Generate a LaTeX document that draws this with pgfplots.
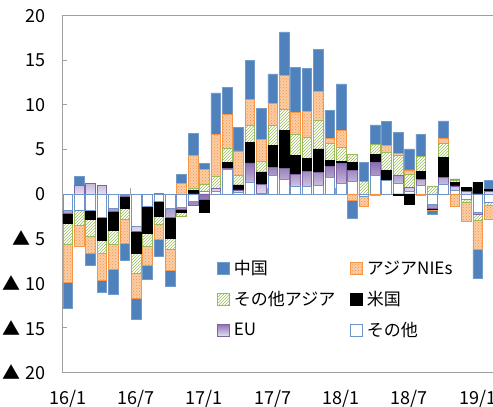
\documentclass[border=0pt]{standalone}
\usepackage{fontspec}
\setmainfont{Noto Sans CJK JP}
\usepackage{pgfplots}
\pgfplotsset{compat=1.18}
\usepackage{pgfplotstable}
\usetikzlibrary{patterns}

\definecolor{cnblue}{HTML}{4F81BD}
\definecolor{niesfill}{HTML}{FBCDA6}
\definecolor{niesdraw}{HTML}{F79646}
\definecolor{asiadraw}{HTML}{9BBB59}
\definecolor{eudraw}{HTML}{8064A2}
\definecolor{eutop}{HTML}{8A70B4}
\definecolor{eubot}{HTML}{E4DDF0}
\definecolor{othdraw}{HTML}{6F94C8}
\definecolor{axgray}{HTML}{A0A0A0}

\pgfplotstableread{
i cn nies asia us eu oth
0 -3.0 -4.2 -2.4 -1.05 -0.4 -1.8
1 0.95 -2.36 -1.6 0 1.0 -1.87
2 -1.3 -2.0 -1.9 -1.0 1.2 -1.8
3 -1.4 -3.0 -1.5 -2.5 1.0 -2.65
4 -2.87 -2.84 -1.57 -2.05 -0.37 -1.6
5 -1.9 -2.7 -1.2 -1.3 -0.2 -0.1
6 -2.36 -2.8 -2.24 -2.43 -0.63 -3.6
7 -1.6 -2.13 -1.42 -3.0 0 -1.42
8 -1.94 -1.72 -0.82 -1.75 0.1 -0.78
9 -1.8 -2.32 -1.23 -2.36 -1.0 -1.6
10 0.93 1.23 -0.45 -0.3 -0.26 -1.5
11 2.43 3.7 0.26 0.37 -0.52 -0.78
12 0.6 1.7 0.8 -1.5 -0.6 0.3
13 4.67 4.67 1.35 0 0.4 0.25
14 3.0 3.8 1.57 0.75 0.1 2.73
15 2.65 2.7 1.12 0.56 0.3 0.15
16 4.4 2.92 1.9 2.28 2.13 1.35
17 3.5 2.47 1.2 1.42 1.0 0.05
18 3.33 2.43 2.28 2.43 0.9 2.1
19 4.87 3.85 2.36 4.2 1.3 1.6
20 5.05 2.43 2.43 2.13 1.28 0.9
21 4.87 2.92 2.36 1.38 1.75 0.82
22 4.67 3.2 3.25 2.62 1.5 0.95
23 3.2 0.56 1.9 0.64 1.23 1.87
24 5.2 1.9 1.57 0.2 2.24 1.23
25 -2.0 -0.71 0.95 0.88 1.27 1.4
26 2.05 -1.1 1.45 0 0 -0.25
27 2.22 -0.1 1.13 0.9 1.4 2.1
28 2.73 0.75 2.05 1.12 0 1.5
29 2.35 0.2 2.2 -0.2 0.9 1.25
30 2.35 0.45 1.55 -1.1 0.4 0.3
31 2.47 -0.2 1.68 0.93 0.64 1.0
32 -0.45 -0.15 0.9 -0.15 -0.4 -1.15
33 1.98 0.56 1.6 2.2 0.75 1.12
34 0.2 -1.35 0.2 0.4 0.5 0.4
35 0 -2.2 -0.23 0.4 0.3 -0.65
36 -3.3 -3.25 -0.65 1.3 -0.28 -2.0
37 1.0 -1.6 -0.26 0.3 0.25 -0.97
}\datatable

\pgfplotsset{
  mybase/.style={
    scale only axis, width=438.5pt, height=356.6pt,
    at={(0pt,0pt)}, anchor=south west,
    xmin=-0.5, xmax=38, ymin=-20, ymax=20,
    ybar stacked, bar width=0.85,
  },
  sOth/.style={fill=white, draw=othdraw, line width=0.6pt},
  sEU/.style={top color=eutop, bottom color=eubot, draw=eudraw, line width=0.6pt},
  sUS/.style={fill=black, draw=black, line width=0.6pt},
  sAsia/.style={fill=white, draw=asiadraw, line width=0.6pt, postaction={pattern=north east lines, pattern color=asiadraw}},
  sNies/.style={fill=niesfill, draw=niesdraw, line width=0.6pt, postaction={pattern=crosshatch dots, pattern color=niesdraw}},
  sCN/.style={fill=cnblue, draw=cnblue!80!white, line width=0.6pt},
}

\begin{document}
\begin{tikzpicture}
\begin{axis}[mybase,
  axis line style={axgray, line width=0.8pt},
  ytick={-20,-15,...,20},
  yticklabels={▲\hspace{0.32em}20,▲\hspace{0.32em}15,▲\hspace{0.32em}10,▲\hspace{0.32em}5,0,5,10,15,20},
  xtick={0,6,...,36},
  xticklabels={16/1,16/7,17/1,17/7,18/1,18/7,19/1},
  tick align=inside, major tick length=5pt,
  ytick style={axgray, line width=0.8pt},
  xtick style={draw=none},
  yticklabel style={font=\fontsize{18}{21}\selectfont, xshift=-12.5pt},
  xticklabel style={font=\fontsize{18}{21}\selectfont, yshift=-14pt},
  extra y ticks={0}, extra y tick labels={},
  extra y tick style={grid=major, major grid style={axgray, line width=0.8pt}, major tick length=0pt},
  legend columns=2, reverse legend,
  legend style={draw=none, fill=none, font=\fontsize{17}{20}\selectfont,
    at={(0.347,0.325)}, anchor=north west,
    /tikz/every even column/.append style={column sep=13pt},
    /tikz/every odd column/.append style={column sep=2pt},
    row sep=11pt},
  legend cell align=left,
  legend image code/.code={\draw[#1] (0pt,-6pt) rectangle (12pt,6pt);},
]
\addplot[sOth] table[x=i, y expr={max(\thisrow{oth},0)}] {\datatable};
\addlegendentry{その他}
\addplot[sEU] table[x=i, y expr={max(\thisrow{eu},0)}] {\datatable};
\addlegendentry{EU}
\addplot[sUS] table[x=i, y expr={max(\thisrow{us},0)}] {\datatable};
\addlegendentry{米国}
\addplot[sAsia] table[x=i, y expr={max(\thisrow{asia},0)}] {\datatable};
\addlegendentry{その他アジア}
\addplot[sNies] table[x=i, y expr={max(\thisrow{nies},0)}] {\datatable};
\addlegendentry{アジアNIEs}
\addplot[sCN] table[x=i, y expr={max(\thisrow{cn},0)}] {\datatable};
\addlegendentry{中国}
\pgfplotsinvokeforeach{5.5,11.5,17.5,23.5,29.5,35.5}{
  \draw[axgray, line width=0.8pt] (axis cs:#1,0) -- ++(0pt,6pt);
}
\end{axis}
\begin{axis}[mybase, hide axis]
\addplot[sOth] table[x=i, y expr={min(\thisrow{oth},0)}] {\datatable};
\addplot[sEU] table[x=i, y expr={min(\thisrow{eu},0)}] {\datatable};
\addplot[sUS] table[x=i, y expr={min(\thisrow{us},0)}] {\datatable};
\addplot[sAsia] table[x=i, y expr={min(\thisrow{asia},0)}] {\datatable};
\addplot[sNies] table[x=i, y expr={min(\thisrow{nies},0)}] {\datatable};
\addplot[sCN] table[x=i, y expr={min(\thisrow{cn},0)}] {\datatable};
\end{axis}
\pgfresetboundingbox
\path[use as bounding box] (-62pt,-34.7pt) rectangle (431pt,372.3pt);
\end{tikzpicture}
\end{document}
